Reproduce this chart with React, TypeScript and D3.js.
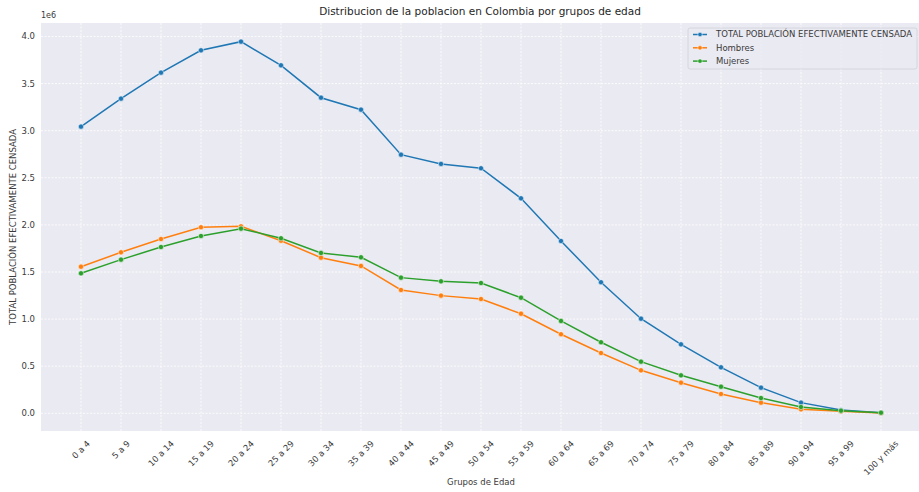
import React from "react";
import * as d3 from "d3";

const categories = ["0 a 4","5 a 9","10 a 14","15 a 19","20 a 24","25 a 29","30 a 34","35 a 39","40 a 44","45 a 49","50 a 54","55 a 59","60 a 64","65 a 69","70 a 74","75 a 79","80 a 84","85 a 89","90 a 94","95 a 99","100 y más"];
const total = [3.043,3.340,3.616,3.853,3.945,3.694,3.350,3.223,2.745,2.647,2.601,2.282,1.829,1.391,1.004,0.732,0.488,0.272,0.113,0.035,0.006];
const hombres = [1.556,1.709,1.850,1.975,1.985,1.832,1.652,1.564,1.309,1.249,1.213,1.057,0.839,0.640,0.456,0.325,0.205,0.113,0.042,0.021,0.003];
const mujeres = [1.486,1.631,1.765,1.882,1.960,1.858,1.702,1.656,1.440,1.401,1.383,1.227,0.980,0.754,0.548,0.403,0.282,0.162,0.067,0.028,0.006];
const yTicks = [0, 0.5, 1.0, 1.5, 2.0, 2.5, 3.0, 3.5, 4.0];
const seriesNames = ["TOTAL POBLACIÓN EFECTIVAMENTE CENSADA", "Hombres", "Mujeres"];
const colors = ["#1f77b4", "#ff7f0e", "#2ca02c"];

const W = 919, H = 492;
const L = 41, R = 921, T = 23, B = 431;
const FONT = "DejaVu Sans, sans-serif";
const TICK_FS = 8.5;

let ctx: CanvasRenderingContext2D | null = null;
function textWidth(s: string, fs: number) {
  if (!ctx) {
    const c = document.createElement("canvas");
    ctx = c.getContext("2d");
  }
  if (!ctx) return s.length * fs * 0.6;
  ctx.font = `${fs}px "DejaVu Sans"`;
  return ctx.measureText(s).width;
}

export default function App() {
  const x = d3.scaleLinear().domain([-1, categories.length]).range([L, R]);
  const y = d3.scaleLinear().domain([-0.188, 4.143]).range([B, T]);
  const line = d3.line<number>().x((_, i) => x(i)).y((d) => y(d));
  const allSeries = [total, hombres, mujeres];
  const th = TICK_FS * 1.0;
  return (
    <svg width={W} height={H} style={{ position: "absolute", left: 0, top: 0 }} fontFamily={FONT}>
      <rect x={0} y={0} width={W} height={H} fill="#fff" />
      <rect x={L} y={T} width={R - L} height={B - T} fill="#EAEAF2" />
      {categories.map((c, i) => (
        <line key={"gx" + i} x1={x(i)} x2={x(i)} y1={T} y2={B} stroke="#fff" strokeWidth={0.8} strokeDasharray="2,1.5" />
      ))}
      {yTicks.map((t) => (
        <line key={"gy" + t} x1={L} x2={R} y1={y(t)} y2={y(t)} stroke="#fff" strokeWidth={0.8} strokeDasharray="2,1.5" />
      ))}
      {yTicks.map((t) => (
        <text key={"yt" + t} x={L - 6} y={y(t)} dy="0.35em" textAnchor="end" fontSize={TICK_FS} fill="#3a3a3a">{t.toFixed(1)}</text>
      ))}
      <text x={L} y={T - 5} fontSize={8} fill="#3a3a3a">1e6</text>
      {categories.map((c, i) => {
        const w = textWidth(c, TICK_FS);
        const bh = (w + th) * Math.SQRT1_2;
        const cy = B + 8 + bh / 2;
        return (
          <text key={"xt" + i} transform={`translate(${x(i)},${cy}) rotate(-45)`} textAnchor="middle" dy="0.35em" fontSize={TICK_FS} fill="#3a3a3a">{c}</text>
        );
      })}
      {allSeries.map((s, k) => (
        <g key={"s" + k}>
          <path d={line(s) || ""} fill="none" stroke={colors[k]} strokeWidth={1.5} />
          {s.map((v, i) => (
            <circle key={i} cx={x(i)} cy={y(v)} r={2.6} fill={colors[k]} stroke="#fff" strokeWidth={0.5} />
          ))}
        </g>
      ))}
      <text x={(L + R) / 2 - 1} y={T - 8} textAnchor="middle" fontSize={10.5} fill="#262626">Distribucion de la poblacion en Colombia por grupos de edad</text>
      <text x={(L + R) / 2} y={485} textAnchor="middle" fontSize={8.5} fill="#3a3a3a">Grupos de Edad</text>
      <text transform={`translate(16,${(T + B) / 2}) rotate(-90)`} textAnchor="middle" fontSize={8.5} fill="#3a3a3a">TOTAL POBLACIÓN EFECTIVAMENTE CENSADA</text>
      <g>
        <rect x={688} y={28} width={229} height={41} rx={2} fill="#EAEAF2" fillOpacity={0.8} stroke="#d0d0d8" strokeWidth={0.8} />
        {seriesNames.map((n, k) => (
          <g key={"lg" + k}>
            <line x1={693} x2={707} y1={34.5 + k * 13.3} y2={34.5 + k * 13.3} stroke={colors[k]} strokeWidth={1.5} />
            <circle cx={700} cy={34.5 + k * 13.3} r={2.2} fill={colors[k]} stroke="#fff" strokeWidth={0.5} />
            <text x={716} y={34.5 + k * 13.3} dy="0.35em" fontSize={8.5} fill="#3a3a3a">{n}</text>
          </g>
        ))}
      </g>
    </svg>
  );
}
